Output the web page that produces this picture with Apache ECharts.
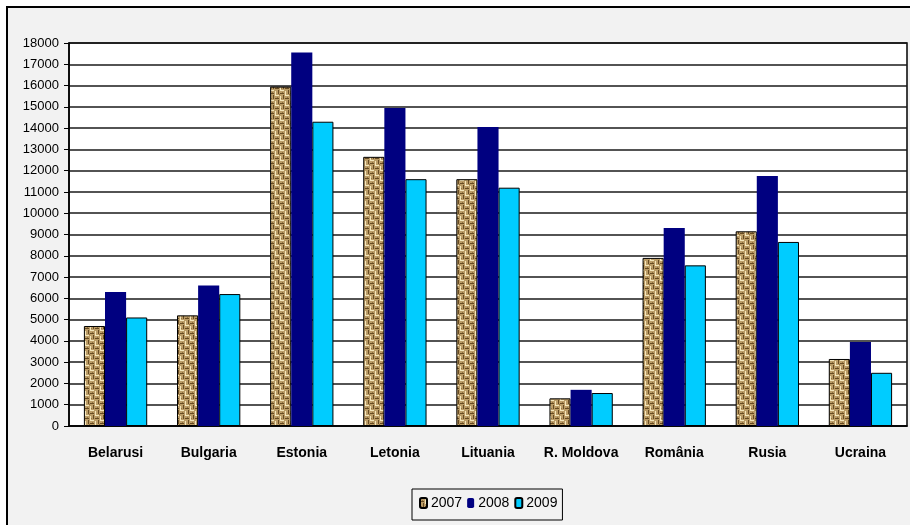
<!DOCTYPE html>
<html>
<head>
<meta charset="utf-8">
<script src="https://cdn.jsdelivr.net/npm/echarts@6/dist/echarts.min.js"></script>
<style>
html,body{margin:0;padding:0;background:#fff;}
#main{width:910px;height:525px;}
</style>
</head>
<body>
<div id="main"></div>
<script>
var countries = ['Belarusi','Bulgaria','Estonia','Letonia','Lituania','R. Moldova','România','Rusia','Ucraina'];
var years = ['2007','2008','2009'];
var v2007 = [4700, 5200, 15950, 12650, 11600, 1300, 7900, 9150, 3150];
var v2008 = [6300, 6600, 17550, 14950, 14050, 1700, 9300, 11750, 3950];
var v2009 = [5100, 6200, 14300, 11600, 11200, 1550, 7550, 8650, 2500];
var yTicks = [0, 1000, 18000];

// burlap like texture for 2007
function burlap() {
	var c = document.createElement('canvas');
	c.width = 10; c.height = 10;
	var g = c.getContext('2d');
	g.fillStyle = '#bb9c66';
	g.fillRect(0,0,10,10);
	g.fillStyle = '#f4e6bc';
	g.fillRect(0,0,4,1); g.fillRect(5,1,1,4); g.fillRect(5,5,4,1); g.fillRect(0,6,1,4);
	g.fillStyle = '#664a22';
	g.fillRect(0,3,4,1); g.fillRect(8,0,1,4); g.fillRect(5,8,4,1); g.fillRect(3,5,1,4);
	g.fillStyle = '#93733f';
	g.fillRect(2,2,1,1); g.fillRect(7,7,1,1); g.fillRect(9,4,1,1); g.fillRect(1,8,1,1);
	return c;
}

var myChart = echarts.init(document.getElementById('main'));
var font = '"Liberation Sans",Arial,sans-serif';
var option = {
	backgroundColor:'#f2f2f2',
	animation:false,
	graphic:[{
		type:'rect', silent:true,
		shape:{x:0,y:0,width:910,height:7},
		style:{fill:'#fff'}
	},{
		type:'rect', silent:true,
		shape:{x:0,y:0,width:7,height:525},
		style:{fill:'#fff'}
	},{
		type:'rect', silent:true,
		shape:{x:7,y:7,width:912,height:530},
		style:{fill:null,stroke:'#000',lineWidth:2}
	}],
	legend:{
		data:years,
		left:412, top:489,
		padding:[7,5,10,7],
		itemGap:5,
		itemWidth:7, itemHeight:10,
		borderColor:'#000', borderWidth:1,
		textStyle:{fontFamily:font,fontSize:14,color:'#000',padding:[0,0,0,-1]}
	},
	grid:{
		left:69, right:3, top:43, bottom:99,
		show:true, backgroundColor:'#fff', borderColor:'#000', borderWidth:1.5
	},
	xAxis:[{
		type:'category',
		data:countries,
		axisLine:{lineStyle:{color:'#000',width:1.5}},
		axisTick:{length:5,lineStyle:{color:'#000'}},
		axisLabel:{interval:0,margin:20,fontFamily:font,fontWeight:'bold',fontSize:14,color:'#000'}
	}],
	yAxis:[{
		type:'value',
		min:yTicks[0], max:yTicks[2], interval:yTicks[1],
		axisLine:{show:true,lineStyle:{color:'#000',width:1.5}},
		axisTick:{show:true,length:5,lineStyle:{color:'#000'}},
		axisLabel:{margin:10,fontFamily:font,fontSize:13,color:'#000',
			formatter:function(v){return String(v);}},
		splitLine:{lineStyle:{color:'#1a1a1a',width:1.5}}
	}],
	series:[{
		name:'2007', type:'bar', data:v2007,
		barGap:'0%', barCategoryGap:'32%',
		itemStyle:{color:{image:burlap(),repeat:'repeat'},borderColor:'#000',borderWidth:1}
	},{
		name:'2008', type:'bar', data:v2008,
		itemStyle:{color:'#000080'}
	},{
		name:'2009', type:'bar', data:v2009,
		itemStyle:{color:'#00ccff',borderColor:'#000',borderWidth:1}
	}]
};
myChart.setOption(option);
</script>
</body>
</html>
